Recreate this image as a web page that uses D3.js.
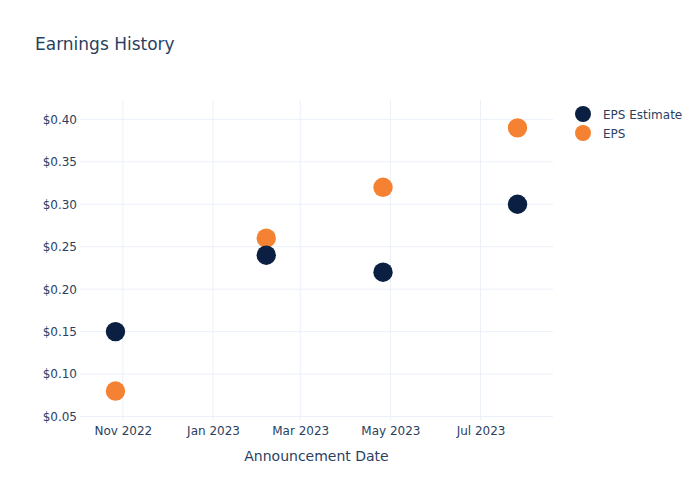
<!DOCTYPE html>
<html>
<head>
<meta charset="utf-8">
<script src="https://cdn.jsdelivr.net/npm/d3@7"></script>
<style>
  html, body { margin: 0; padding: 0; background: #fff; }
  svg { display: block; font-family: "DejaVu Sans", Verdana, sans-serif; }
</style>
</head>
<body>
<svg id="chart" width="700" height="500"></svg>
<script>
// ---- data ----
const dates = ["2022-10-27", "2023-02-06", "2023-04-26", "2023-07-26"];
const epsEstimate = [0.15, 0.24, 0.22, 0.30];
const eps = [0.08, 0.26, 0.32, 0.39];
const seriesNames = ["EPS Estimate", "EPS"];
const seriesColors = ["#0b1f42", "#f58232"];
const yTicks = [0.05, 0.10, 0.15, 0.20, 0.25, 0.30, 0.35, 0.40];
const xTicks = ["2022-11-01", "2023-01-01", "2023-03-01", "2023-05-01", "2023-07-01"];
const xDomain = ["2022-10-03", "2023-08-19"];
const yDomain = [0.0459, 0.4228];

const parse = d3.utcParse("%Y-%m-%d");
const svg = d3.select("#chart");
const textColor = "#2a3f5f";
const gridColor = "#ebf0f8";

const m = { left: 80, right: 147, top: 100, bottom: 80 };
const W = 700, H = 500;

const x = d3.scaleUtc().domain(xDomain.map(parse)).range([m.left, W - m.right]);
const y = d3.scaleLinear().domain(yDomain).range([H - m.bottom, m.top]);

// gridlines
const grid = svg.append("g");
grid.selectAll(".gy").data(yTicks).join("line")
  .attr("x1", m.left).attr("x2", W - m.right)
  .attr("y1", d => y(d)).attr("y2", d => y(d))
  .attr("stroke", gridColor).attr("stroke-width", 1);
grid.selectAll(".gx").data(xTicks.map(parse)).join("line")
  .attr("y1", m.top).attr("y2", H - m.bottom)
  .attr("x1", d => x(d)).attr("x2", d => x(d))
  .attr("stroke", gridColor).attr("stroke-width", 1);

// y axis
const yAxis = d3.axisLeft(y).tickValues(yTicks).tickSize(0).tickPadding(3)
  .tickFormat(d => "$" + d3.format(".2f")(d));
const gy = svg.append("g").attr("transform", `translate(${m.left - 0},0)`).call(yAxis);
gy.select(".domain").remove();
gy.selectAll("text").attr("fill", textColor).attr("font-size", 12)
  .attr("font-family", "DejaVu Sans, sans-serif");

// x axis
const fmt = d3.utcFormat("%b %Y");
const xAxis = d3.axisBottom(x).tickValues(xTicks.map(parse)).tickSize(0).tickPadding(6)
  .tickFormat(d => fmt(d));
const gx = svg.append("g").attr("transform", `translate(0,${H - m.bottom})`).call(xAxis);
gx.select(".domain").remove();
gx.selectAll("text").attr("fill", textColor).attr("font-size", 12)
  .attr("font-family", "DejaVu Sans, sans-serif");

// axis title
svg.append("text").attr("x", (m.left + W - m.right) / 2).attr("y", 461)
  .attr("text-anchor", "middle").attr("fill", textColor).attr("font-size", 14)
  .text("Announcement Date");

// title
svg.append("text").attr("x", 35).attr("y", 50)
  .attr("fill", textColor).attr("font-size", 17)
  .text("Earnings History");

// points (EPS first, estimate on top)
const r = 9.7;
const series = [epsEstimate, eps];
[1, 0].forEach(i => {
  svg.append("g").selectAll("circle").data(series[i]).join("circle")
    .attr("cx", (d, j) => x(parse(dates[j])))
    .attr("cy", d => y(d))
    .attr("r", r)
    .attr("fill", seriesColors[i]);
});

// legend
const lg = svg.append("g");
seriesNames.forEach((name, i) => {
  const ly = 114 + i * 19;
  lg.append("circle").attr("cx", 583).attr("cy", ly).attr("r", 8).attr("fill", seriesColors[i]);
  lg.append("text").attr("x", 603).attr("y", ly + 4.5).attr("fill", textColor)
    .attr("font-size", 12).text(name);
});
</script>
</body>
</html>
